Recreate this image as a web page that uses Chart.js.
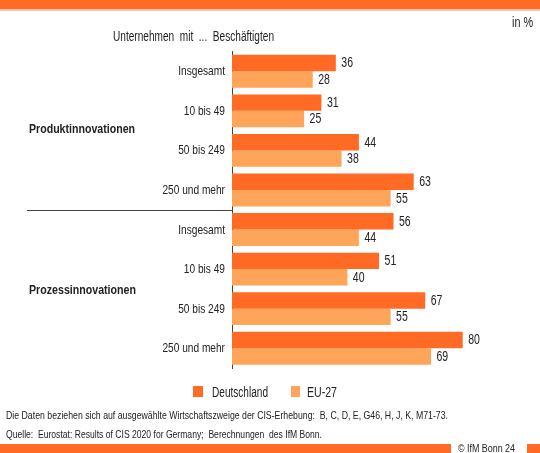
<!DOCTYPE html>
<html><head><meta charset="utf-8">
<script src="https://cdn.jsdelivr.net/npm/chart.js@4"></script>
<style>
html,body{margin:0;padding:0;background:#fff;}
#wrap{position:relative;width:540px;height:453px;overflow:hidden;font-family:"Liberation Sans",Arial,sans-serif;color:#222;}
canvas{position:absolute;left:0;top:0;}
.t{position:absolute;white-space:nowrap;line-height:1;transform-origin:0 0;}
.sq{position:absolute;}
</style></head>
<body>
<div id="wrap">
<div style="position:absolute;left:0;top:0;width:540px;height:9px;background:#FF6A24;"></div>
<div style="position:absolute;left:0;top:9px;width:540px;height:2px;background:#FFC4A0;"></div>
<canvas id="c" width="540" height="453"></canvas>
<div class="t" data-w="21" style="left:512px;top:15px;font-size:14px;">in %</div>
<div class="t" data-w="161" style="left:113px;top:29px;font-size:14px;">Unternehmen&nbsp; mit&nbsp; ...&nbsp; Beschäftigten</div>
<div class="t" data-w="106" style="left:29px;top:123px;font-size:12px;font-weight:bold;">Produktinnovationen</div>
<div class="t" data-w="107" style="left:29px;top:284px;font-size:12px;font-weight:bold;">Prozessinnovationen</div>
<div class="sq" style="left:193px;top:386px;width:10px;height:11px;background:#FF6A24;"></div>
<div class="t" data-w="56" style="left:211.5px;top:384.5px;font-size:14px;">Deutschland</div>
<div class="sq" style="left:291px;top:386px;width:9px;height:11px;background:#FFA55A;"></div>
<div class="t" data-w="30" style="left:306.5px;top:384.5px;font-size:14px;">EU-27</div>
<div class="t" data-w="442" style="left:6px;top:410px;font-size:11px;">Die Daten beziehen sich auf ausgewählte Wirtschaftszweige der CIS-Erhebung:&nbsp; B, C, D, E, G46, H, J, K, M71-73.</div>
<div class="t" data-w="316" style="left:6px;top:429px;font-size:11px;">Quelle:&nbsp; Eurostat: Results of CIS 2020 for Germany;&nbsp; Berechnungen&nbsp; des IfM Bonn.</div>
<div style="position:absolute;left:0;top:444px;width:451px;height:9px;background:#FF6A24;"></div>
<div class="t" data-w="57" style="left:458px;top:442.5px;font-size:11px;">© IfM Bonn 24</div>
<div style="position:absolute;left:527px;top:444px;width:13px;height:9px;background:#FF6A24;"></div>
</div>
<script>
const categories = ["Insgesamt","10 bis 49","50 bis 249","250 und mehr","Insgesamt","10 bis 49","50 bis 249","250 und mehr"];
const seriesNames = ["Deutschland","EU-27"];
const deutschland = [36,31,44,63,56,51,67,80];
const eu27 = [28,25,38,55,44,40,55,69];
const colors = ["#FF6A24","#FFA55A"];
const FONT = '"Liberation Sans",Arial,sans-serif';

// condense HTML texts to the narrow width of the original typeface
document.querySelectorAll('.t[data-w]').forEach(el=>{
  const w = el.getBoundingClientRect().width;
  const target = parseFloat(el.dataset.w);
  if (w > 0) el.style.transform = 'scaleX(' + (target / w) + ')';
});

function narrowText(ctx, text, x, y, sx, align){
  ctx.save();
  ctx.translate(x, y);
  ctx.scale(sx, 1);
  ctx.textAlign = align;
  ctx.fillText(text, 0, 0);
  ctx.restore();
}

const drawPlugin = {
  id:'narrowLabels',
  afterDatasetsDraw(chart){
    const ctx = chart.ctx;
    const y = chart.scales.y;
    ctx.save();
    ctx.fillStyle = '#222';
    ctx.textBaseline = 'middle';
    // category labels
    ctx.font = '13px ' + FONT;
    chart.data.labels.forEach((lab,i)=>{
      narrowText(ctx, lab, chart.chartArea.left - 7, y.getPixelForValue(i) + 0.5, 0.78, 'right');
    });
    // value labels
    ctx.font = '14px ' + FONT;
    chart.data.datasets.forEach((ds,i)=>{
      chart.getDatasetMeta(i).data.forEach((bar,j)=>{
        narrowText(ctx, String(ds.data[j]), bar.x + 5.5, bar.y + 0.5, 0.75, 'left');
      });
    });
    // separator between the two groups
    const sep = Math.round((y.getPixelForValue(3) + y.getPixelForValue(4)) / 2) + 0.5;
    ctx.strokeStyle = '#444';
    ctx.lineWidth = 1;
    ctx.beginPath();
    ctx.moveTo(27, sep);
    ctx.lineTo(chart.chartArea.left, sep);
    ctx.stroke();
    ctx.restore();
  }
};

new Chart(document.getElementById('c'), {
  type:'bar',
  data:{
    labels: categories,
    datasets:[
      {label:seriesNames[0], data:deutschland, backgroundColor:colors[0], categoryPercentage:0.83, barPercentage:1.0},
      {label:seriesNames[1], data:eu27, backgroundColor:colors[1], categoryPercentage:0.83, barPercentage:1.0}
    ]
  },
  options:{
    indexAxis:'y',
    responsive:false,
    animation:false,
    layout:{padding:{left:0,right:19.6,top:51.5,bottom:85}},
    plugins:{legend:{display:false},tooltip:{enabled:false}},
    scales:{
      x:{display:false,min:0,max:100},
      y:{
        afterFit(s){ s.width = 232; },
        grid:{display:false,drawTicks:false},
        border:{display:true,color:'#444',width:1},
        ticks:{display:false}
      }
    }
  },
  plugins:[drawPlugin]
});
</script>
</body></html>
